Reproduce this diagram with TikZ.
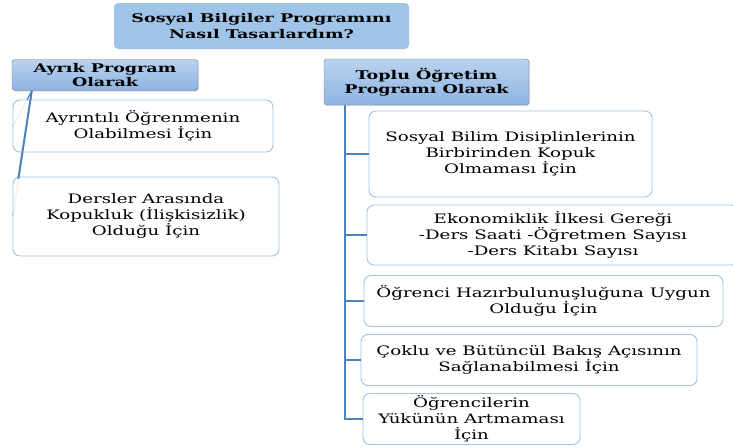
\documentclass[tikz,border=0pt]{standalone}
\usepackage{fontspec}
\setmainfont[FakeStretch=1.4]{DejaVu Serif}
\newfontfamily\headfont[FakeStretch=1.46]{DejaVu Serif}
\usepackage{tikz}
\usetikzlibrary{positioning,shadows,calc}
\definecolor{headblue}{RGB}{160,196,232}
\definecolor{headtop}{RGB}{186,210,238}
\definecolor{headbot}{RGB}{141,180,226}
\definecolor{headline}{RGB}{105,118,135}
\definecolor{boxline}{RGB}{157,195,230}
\definecolor{linkblue}{RGB}{79,129,189}
\tikzset{
  title box/.style={
    fill=headblue, rounded corners=4pt,
    minimum width=295pt, minimum height=46pt,
    align=center, font=\headfont\bfseries\fontsize{12}{16}\selectfont
  },
  head box/.style={
    draw=headline, top color=headtop, bottom color=headbot,
    rounded corners=3pt, drop shadow={opacity=0.25,shadow xshift=1pt,shadow yshift=-1pt},
    align=center, inner sep=0pt,
    font=\headfont\bfseries\fontsize{12}{14.5}\selectfont
  },
  item box/.style={
    draw=boxline, line width=0.9pt, fill=white, fill opacity=0.88, text opacity=1,
    rounded corners=7pt, align=center, inner sep=0pt,
    font=\fontsize{13}{16}\selectfont
  },
  link/.style={draw=linkblue, line width=2pt},
  faint link/.style={draw=linkblue, line width=1.2pt}
}
\begin{document}
\begin{tikzpicture}[x=1pt,y=-1pt]
 \useasboundingbox (0,0) rectangle (733,447);
 \begin{scope}
 \clip (0,0) rectangle (733,447);
 % headings
 \node[title box] (title) at (261.5,26) {Sosyal Bilgiler Programını\\Nasıl Tasarlardım?};
 \node[head box, minimum width=186pt, minimum height=31pt] (ayrik) at (105,75) {Ayrık Program\\Olarak};
 \node[head box, minimum width=205pt, minimum height=46pt] (toplu) at (426.5,82) {Toplu Öğretim\\Programı Olarak};
 \coordinate (ayrik_foot) at ([xshift=20pt]ayrik.south west);
 \coordinate (toplu_foot) at ([xshift=21pt]toplu.south west);
 % left branch links (behind the boxes)
 \path[faint link] (ayrik_foot) -- (13,126);
 \path[faint link] (ayrik_foot) -- (13,216.5);
 % left branch
 \node[item box, minimum width=260pt, minimum height=52pt] (a_1) at (143,126) {Ayrıntılı Öğrenmenin\\Olabilmesi İçin};
 \node[item box, minimum width=266pt, minimum height=79pt] (a_2) at (146,216.5) {Dersler Arasında\\Kopukluk (İlişkisizlik)\\Olduğu İçin};
 \path[link] (ayrik_foot) -- ($(ayrik_foot)!0.7!(a_2.west)$);
 % right branch
 \node[item box, minimum width=283pt, minimum height=86pt] (t_1) at (510.5,154) {Sosyal Bilim Disiplinlerinin\\Birbirinden Kopuk\\Olmaması İçin};
 \node[item box, minimum width=372pt, minimum height=60pt] (t_2) at (553,235) {Ekonomiklik İlkesi Gereği\\-Ders Saati -Öğretmen Sayısı\\-Ders Kitabı Sayısı};
 \node[item box, minimum width=359pt, minimum height=51pt] (t_3) at (543.5,301) {Öğrenci Hazırbulunuşluğuna Uygun\\Olduğu İçin};
 \node[item box, minimum width=336pt, minimum height=51pt] (t_4) at (529,360) {Çoklu ve Bütüncül Bakış Açısının\\Sağlanabilmesi İçin};
 \node[item box, minimum width=217pt, minimum height=51pt] (t_5) at (471.5,419) {Öğrencilerin\\Yükünün Artmaması\\İçin};
 \foreach \t in {t_1,t_2,t_3,t_4,t_5}
   \path[link] (toplu_foot) |- (\t.west);
 \end{scope}
\end{tikzpicture}
\end{document}
